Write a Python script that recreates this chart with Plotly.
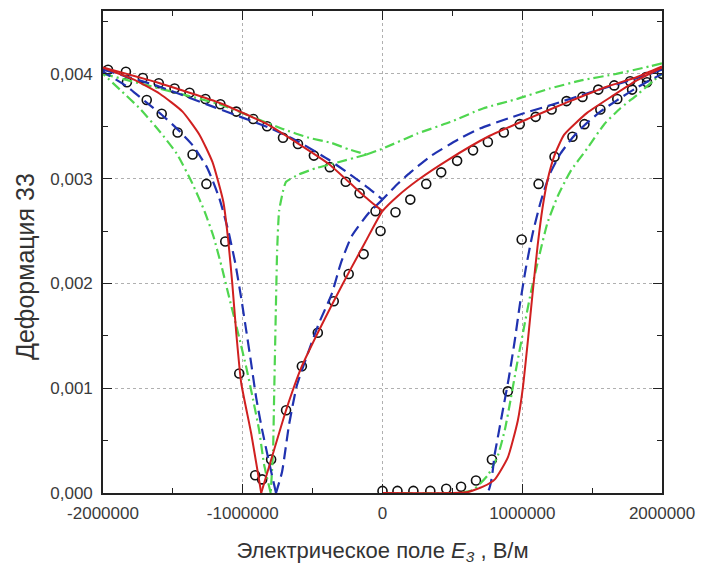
import plotly.graph_objects as go

# ---------------- experimental points (open circles) ----------------
exp_ul_E = [-1964000, -1836000, -1715000, -1601000, -1488000, -1381000, -1267000, -1160000, -1046000,
            -925000, -826000, -712000, -605000, -491000, -377000, -263000, -164000, -50000]
exp_ul_S = [0.00404, 0.00402, 0.00396, 0.00391, 0.00386, 0.00382, 0.00376, 0.00371, 0.00364,
            0.00357, 0.00350, 0.00339, 0.00333, 0.00322, 0.00311, 0.00297, 0.00286, 0.00269]
exp_sl_E = [-1829000, -1687000, -1580000, -1466000, -1359000, -1260000, -1125000, -1025000, -911000, -861000]
exp_sl_S = [0.00392, 0.00375, 0.00362, 0.00344, 0.00323, 0.00295, 0.00240, 0.00114, 0.00017, 0.00013]
exp_rl_E = [-797000, -690000, -577000, -463000, -349000, -242000, -135000]
exp_rl_S = [0.00032, 0.00079, 0.00121, 0.00153, 0.00183, 0.00209, 0.00228]
exp_ur_E = [-14000, 93000, 199000, 313000, 420000, 534000, 648000, 754000, 868000, 982000,
            1096000, 1210000, 1317000, 1431000, 1544000, 1658000, 1772000, 1886000]
exp_ur_S = [0.00250, 0.00268, 0.00280, 0.00295, 0.00306, 0.00317, 0.00327, 0.00335, 0.00344, 0.00352,
            0.00359, 0.00366, 0.00374, 0.00378, 0.00385, 0.00389, 0.00393, 0.00397]
exp_rr_E = [0, 107000, 221000, 342000, 456000, 562000, 669000, 783000, 897000, 996000, 1117000,
            1231000, 1359000, 1445000, 1559000, 1680000, 1786000, 1893000, 2000000]
exp_rr_S = [0.00002, 0.00002, 0.00002, 0.00002, 0.00004, 0.00006, 0.00012, 0.00032, 0.00097, 0.00242, 0.00295,
            0.00321, 0.00340, 0.00352, 0.00366, 0.00376, 0.00385, 0.00392, 0.00400]

# ---------------- red solid model ----------------
red_ul_E = [-2000000, -1594000, -1160000, -826000, -598000, -384000, -242000, -128000, 0]
red_ul_S = [0.00406, 0.00391, 0.00372, 0.00352, 0.00333, 0.00314, 0.00297, 0.00283, 0.00269]
red_ur_E = [2000000, 1822000, 1609000, 1324000, 1039000, 754000, 470000, 256000, 114000, 0]
red_ur_S = [0.00407, 0.00397, 0.00388, 0.00373, 0.00357, 0.00340, 0.00318, 0.00299, 0.00284, 0.00269]
red_rl_E = [0, -121000, -235000, -349000, -463000, -577000, -690000, -776000, -868000]
red_rl_S = [0.00269, 0.00240, 0.00212, 0.00183, 0.00153, 0.00121, 0.00079, 0.00041, 0.0]
red_sl_E = [-868000, -940000, -1011000, -1046000, -1075000, -1103000, -1139000, -1217000, -1310000,
            -1431000, -1594000, -1786000, -2000000]
red_sl_S = [0.0, 0.00057, 0.00105, 0.00152, 0.00200, 0.00240, 0.00278, 0.00316, 0.00342,
            0.00364, 0.00381, 0.00395, 0.00406]
red_rr_E = [0, 505000, 612000, 719000, 804000, 897000, 968000, 1004000, 1040000, 1075000, 1110000,
            1145000, 1180000, 1230000, 1300000, 1466000, 1658000, 1822000, 2000000]
red_rr_S = [0.0, 0.0, 0.00001, 0.00006, 0.00013, 0.00034, 0.00069, 0.00100, 0.00145, 0.00192, 0.00236,
            0.00272, 0.00298, 0.00322, 0.00342, 0.00363, 0.00380, 0.00394, 0.00406]

# ---------------- blue dashed model ----------------
blue_ul_E = [-2000000, -1600000, -1200000, -800000, -598000, -384000, -242000, -100000, 0]
blue_ul_S = [0.00404, 0.00388, 0.00368, 0.00348, 0.00335, 0.00318, 0.00305, 0.00291, 0.00280]
blue_ur_E = [2000000, 1800000, 1500000, 1200000, 1000000, 700000, 550000, 350000, 200000, 100000, 0]
blue_ur_S = [0.00404, 0.00395, 0.00383, 0.00370, 0.00362, 0.00348, 0.00338, 0.00322, 0.00306, 0.00294, 0.00280]
blue_rl_E = [0, -100000, -221000, -299000, -363000, -455000, -527000, -612000, -669000, -719000, -762000]
blue_rl_S = [0.00280, 0.00267, 0.00245, 0.00219, 0.00190, 0.00162, 0.00136, 0.00103, 0.00065, 0.00020, 0.0]
blue_sl_E = [-762000, -811000, -861000, -904000, -940000, -975000, -1011000, -1053000, -1103000, -1167000,
             -1253000, -1359000, -1473000, -1580000, -1701000, -1829000, -2000000]
blue_sl_S = [0.0, 0.00029, 0.00060, 0.00091, 0.00124, 0.00155, 0.00186, 0.00219, 0.00250, 0.00281,
             0.00310, 0.00332, 0.00348, 0.00361, 0.00374, 0.00388, 0.00402]
blue_rr_E = [0, 747000, 804000, 854000, 904000, 947000, 982000, 1025000, 1075000, 1132000, 1196000,
             1274000, 1359000, 1445000, 1559000, 1680000, 1822000, 2000000]
blue_rr_S = [0.0, 0.0, 0.00038, 0.00074, 0.00110, 0.00146, 0.00179, 0.00214, 0.00248, 0.00278, 0.00304,
             0.00324, 0.00339, 0.00351, 0.00364, 0.00375, 0.00387, 0.00400]

# ---------------- green dash-dot model ----------------
green_ul_E = [-2000000, -1594000, -1167000, -932000, -705000, -527000, -363000, -242000, -114000]
green_ul_S = [0.00400, 0.00386, 0.00371, 0.00359, 0.00347, 0.00339, 0.00334, 0.00328, 0.00323]
green_ur_E = [-114000, 7000, 249000, 484000, 719000, 961000, 1196000, 1431000, 1673000, 1907000, 2000000]
green_ur_S = [0.00323, 0.00329, 0.00343, 0.00354, 0.00367, 0.00376, 0.00386, 0.00394, 0.00400, 0.00407, 0.00410]
green_rl_E = [-114000, -363000, -477000, -598000, -690000, -712000, -740000, -754000, -762000, -769000,
              -776000, -783000, -800000]
green_rl_S = [0.00323, 0.00314, 0.00310, 0.00304, 0.00297, 0.00288, 0.00269, 0.00231, 0.00183, 0.00136,
              0.00088, 0.00041, 0.0]
green_sl_E = [-800000, -847000, -883000, -932000, -975000, -1025000, -1096000, -1153000, -1210000,
              -1274000, -1359000, -1473000, -1594000, -1737000, -1879000, -2000000]
green_sl_S = [0.0, 0.00027, 0.00060, 0.00093, 0.00120, 0.00148, 0.00186, 0.00217, 0.00245,
              0.00269, 0.00295, 0.00324, 0.00345, 0.00367, 0.00385, 0.00400]
green_rr_E = [0, 541000, 648000, 754000, 826000, 875000, 918000, 961000, 1011000, 1061000, 1117000,
              1181000, 1253000, 1345000, 1466000, 1587000, 1701000, 1822000, 1943000, 2000000]
green_rr_S = [0.0, 0.0, 0.00003, 0.00017, 0.00036, 0.00060, 0.00090, 0.00122, 0.00157, 0.00191, 0.00224,
              0.00258, 0.00283, 0.00307, 0.00329, 0.00352, 0.00367, 0.00380, 0.00394, 0.00400]

x_ticks = [-2000000, -1000000, 0, 1000000, 2000000]
x_tick_text = ["-2000000", "-1000000", "0", "1000000", "2000000"]
y_ticks = [0.0, 0.001, 0.002, 0.003, 0.004]
y_tick_text = ["0,000", "0,001", "0,002", "0,003", "0,004"]
y_title = "Деформация 33"
x_title = "Электрическое поле <i>E</i><sub><i>3</i></sub> , В/м"


def join(*segs):
    xs, ys = [], []
    for i, (sx, sy) in enumerate(segs):
        if i:
            xs.append(None)
            ys.append(None)
        xs.extend(sx)
        ys.extend(sy)
    return xs, ys


FONT = "Liberation Sans, Arial, sans-serif"
fig = go.Figure()

ex, ey = join((exp_ul_E, exp_ul_S), (exp_sl_E, exp_sl_S), (exp_rl_E, exp_rl_S),
              (exp_ur_E, exp_ur_S), (exp_rr_E, exp_rr_S))
fig.add_trace(go.Scatter(x=ex, y=ey, mode="markers",
                         marker=dict(symbol="circle-open", size=9, color="#111111",
                                     line=dict(width=1.6, color="#111111")),
                         showlegend=False))

gx, gy = join((green_ul_E, green_ul_S), (green_ur_E, green_ur_S), (green_rl_E, green_rl_S),
              (green_sl_E, green_sl_S), (green_rr_E, green_rr_S))
fig.add_trace(go.Scatter(x=gx, y=gy, mode="lines",
                         line=dict(color="#4fd64f", width=2.2, dash="10px,4px,2px,4px", shape="spline",
                                   smoothing=0.5),
                         showlegend=False))

bx, by = join((blue_ul_E, blue_ul_S), (blue_ur_E, blue_ur_S), (blue_rl_E, blue_rl_S),
              (blue_sl_E, blue_sl_S), (blue_rr_E, blue_rr_S))
fig.add_trace(go.Scatter(x=bx, y=by, mode="lines",
                         line=dict(color="#2032b0", width=2.2, dash="12px,6px", shape="spline",
                                   smoothing=0.5),
                         showlegend=False))

rx, ry = join((red_ul_E, red_ul_S), (red_ur_E + red_rl_E[1:], red_ur_S + red_rl_S[1:]),
              (red_sl_E, red_sl_S), (red_rr_E, red_rr_S))
fig.add_trace(go.Scatter(x=rx, y=ry, mode="lines",
                         line=dict(color="#d02020", width=2, shape="spline", smoothing=0.5),
                         showlegend=False))

axis_common = dict(
    showline=True, linecolor="#222222", linewidth=1.6, mirror="ticks",
    ticks="inside", ticklen=9, tickwidth=1.4, tickcolor="#222222",
    showgrid=True, gridcolor="#b0b0b0", griddash="dot", gridwidth=1,
    zeroline=False,
    tickfont=dict(family=FONT, size=17, color="#3a3a3a"),
)

fig.update_xaxes(range=[-2000000, 2000000], tickvals=x_ticks, ticktext=x_tick_text,
                 ticklabelstandoff=4,
                 minor=dict(ticks="inside", ticklen=5, tickwidth=1.2, tickcolor="#222222",
                            dtick=500000, tick0=0, showgrid=False),
                 title=dict(text=x_title,
                            font=dict(family=FONT, size=22, color="#333333"),
                            standoff=20),
                 **axis_common)
fig.update_yaxes(range=[0, 0.0046], tickvals=y_ticks, ticktext=y_tick_text,
                 ticklabelstandoff=5,
                 minor=dict(ticks="inside", ticklen=5, tickwidth=1.2, tickcolor="#222222",
                            dtick=0.0005, tick0=0, showgrid=False),
                 **axis_common)

fig.add_annotation(text=y_title, xref="paper", yref="paper", x=0, y=0.5,
                   xanchor="center", yanchor="middle", xshift=-78, yshift=-15,
                   textangle=-90, showarrow=False,
                   font=dict(family=FONT, size=25, color="#333333"))

fig.update_layout(
    width=704, height=569,
    margin=dict(l=103, r=39, t=9, b=76),
    paper_bgcolor="white", plot_bgcolor="white",
    showlegend=False,
)

fig.write_html("out.html")
